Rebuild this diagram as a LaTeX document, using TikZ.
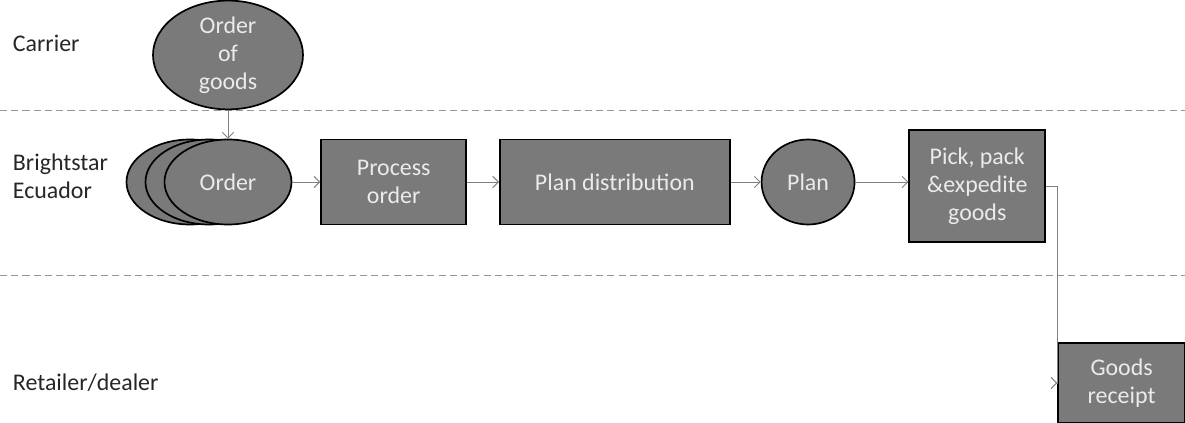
\documentclass[tikz,border=0pt]{standalone}
\usepackage{fontspec}
\setmainfont{Carlito}
\usepackage{xcolor}
\usetikzlibrary{shapes.geometric,arrows.meta,positioning}

\definecolor{stepfill}{RGB}{122,122,122}
\definecolor{lanegray}{RGB}{150,150,150}

\begin{document}
\begin{tikzpicture}[
    node distance=0.75cm,
    every node/.style={font=\fontsize{17}{20}\selectfont},
    proc/.style={rectangle, draw=black, line width=1.2pt, fill=stepfill, text=white!92!black, text centered, inner sep=0pt},
    event/.style={ellipse, draw=black, line width=1.2pt, fill=stepfill, text=white!92!black, text centered, inner sep=0pt},
    lane/.style={anchor=west, align=left, text=black!85},
    flow/.style={-{Straight Barb[length=4pt,width=8pt]}, draw=gray, line width=0.7pt},
    divider/.style={draw=lanegray, dash pattern=on 5pt off 3pt, line width=0.6pt}
]
    \useasboundingbox (0,0) rectangle (29.625,-10.575);

    % Lanes
    \draw[divider] (0,-2.75) -- (29.625,-2.75);
    \draw[divider] (0,-6.875) -- (29.625,-6.875);
    \node[lane] (l1) at (0.2,-1.075) {Carrier};
    \node[lane, align=left] (l2) at (0.2,-4.4) {Brightstar\\Ecuador};
    \node[lane] (l3) at (0.2,-9.575) {Retailer/dealer};

    % Carrier
    \node[event, minimum width=3.75cm, minimum height=2.25cm, align=center] (goods) at (5.7,-1.375) {Order\\of\\goods};

    % Brightstar Ecuador
    \node[event, minimum width=3.175cm, minimum height=2.125cm] (ord3) at (4.75,-4.55) {};
    \node[event, minimum width=3.175cm, minimum height=2.125cm] (ord2) at (5.225,-4.55) {};
    \node[event, minimum width=3.175cm, minimum height=2.125cm] (order) at (5.7,-4.55) {Order};
    \node[proc, minimum width=3.625cm, minimum height=2.125cm, align=center, right=0.7cm of order] (process) {Process\\order};
    \node[proc, minimum width=5.75cm, minimum height=2.125cm, right=0.8cm of process] (distrib) {Plan distribution};
    \node[event, minimum width=2.325cm, minimum height=2.125cm, right=0.75cm of distrib] (plan) {Plan};
    \node[proc, minimum width=3.4cm, minimum height=2.8cm, align=center, right=1.325cm of plan, yshift=-0.1cm] (pick) {Pick, pack\\\&expedite\\goods};

    % Retailer/dealer
    \node[proc, minimum width=3.175cm, minimum height=2.0cm, align=center] (receipt) at (28.04,-9.575) {Goods\\receipt};

    % Connectors
    \draw[flow] (goods) -- (order);
    \draw[flow] (order) -- (process);
    \draw[flow] (process) -- (distrib);
    \draw[flow] (distrib) -- (plan);
    \draw[flow] (plan.east) -- (plan.east -| pick.west);
    \draw[flow] (pick.east) -- ++(0.275,0) |- (receipt.west);
\end{tikzpicture}
\end{document}
